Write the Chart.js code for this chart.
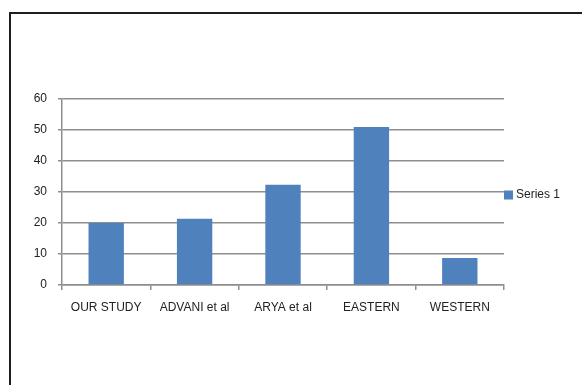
<!DOCTYPE html>
<html lang="en">
<head>
    <meta charset="UTF-8">
    <title>Series 1 bar chart</title>
    <style>
        body {
            margin: 0;
            background: #fff;
            font-family: "Liberation Sans", Arial, sans-serif;
        }
        #frame {
            position: absolute;
            left: 9px;
            top: 12px;
            width: 600px;
            height: 400px;
            border-top: 2px solid #1e1e1e;
            border-left: 2px solid #1e1e1e;
        }
        #wrap {
            position: absolute;
            left: 0;
            top: 0;
            width: 582px;
            height: 385px;
        }
    </style>
</head>
<body>
    <div id="frame"></div>
    <div id="wrap"><canvas id="myChart"></canvas></div>

    <script src="https://cdn.jsdelivr.net/npm/chart.js"></script>
    <script>

const categories = ['OUR STUDY', 'ADVANI et al', 'ARYA et al', 'EASTERN', 'WESTERN'];
const seriesName = 'Series 1';
const seriesValues = [20, 21.4, 32.3, 51, 8.7];
const yTicks = [0, 10, 20, 30, 40, 50, 60];

const gridColor = '#8e8e8e';
const textColor = '#222';
const barColor = '#4f81bd';
const fontFamily = '"Liberation Sans", Arial, sans-serif';

// excel style legend: small square + label, right of the plot, a bit above middle
const sideLegend = {
    id: 'sideLegend',
    afterDraw(chart) {
        const c = chart.ctx;
        const area = chart.chartArea;
        const x = area.right;
        const y = 195;
        c.save();
        c.fillStyle = chart.data.datasets[0].backgroundColor;
        c.fillRect(x, y - 4.5, 9, 9);
        c.fillStyle = textColor;
        c.font = '12px ' + fontFamily;
        c.textBaseline = 'middle';
        c.fillText(chart.data.datasets[0].label, x + 12, y);
        c.restore();
    }
};

const ctx = document.getElementById('myChart').getContext('2d');
const chart = new Chart(ctx, {
    type: 'bar',
    data: {
        labels: categories,
        datasets: [{
            label: seriesName,
            data: seriesValues,
            backgroundColor: barColor,
            categoryPercentage: 1,
            barPercentage: 0.4
        }]
    },
    plugins: [sideLegend],
    options: {
        responsive: true,
        maintainAspectRatio: false,
        animation: false,
        layout: {
            padding: { left: 12, top: 99, right: 78, bottom: 70 }
        },
        plugins: {
            tooltip: { enabled: false },
            legend: { display: false }
        },
        scales: {
            x: {
                offset: true,
                grid: {
                    offset: true,
                    drawOnChartArea: false,
                    drawTicks: true,
                    tickLength: 5,
                    color: gridColor,
                    lineWidth: 1.5
                },
                border: { color: gridColor, width: 1.5 },
                ticks: {
                    color: textColor,
                    padding: 10,
                    maxRotation: 0,
                    autoSkip: false,
                    font: { family: fontFamily, size: 12 }
                },
                afterFit: s => { s.height = 30; }
            },
            y: {
                min: yTicks[0],
                max: yTicks[yTicks.length - 1],
                afterBuildTicks: s => { s.ticks = yTicks.map(v => ({ value: v })); },
                grid: {
                    color: gridColor,
                    lineWidth: 1.5,
                    drawTicks: true,
                    tickLength: 4
                },
                border: { color: gridColor, width: 1.5 },
                ticks: {
                    color: textColor,
                    padding: 11,
                    font: { family: fontFamily, size: 12 }
                },
                afterFit: s => { s.width = 50; }
            }
        }
    }
});

    </script>
</body>
</html>
